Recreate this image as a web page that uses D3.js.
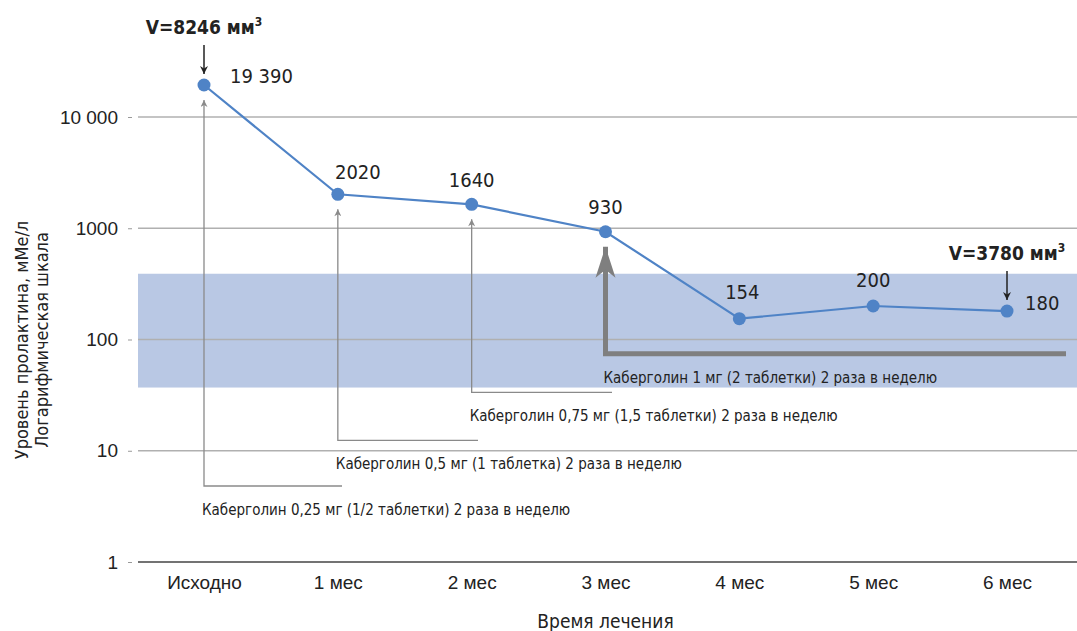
<!DOCTYPE html>
<html>
<head>
<meta charset="utf-8">
<script src="https://cdn.jsdelivr.net/npm/d3@7"></script>
<style>
    body { margin: 0; background: #fff; }
    svg { display: block; font-family: 'Liberation Sans Narrow', 'DejaVu Sans Condensed', 'Arial Narrow', sans-serif; }
</style>
</head>
<body>
<svg width="1077" height="631"></svg>
<script>
const months = ['Исходно', '1 мес', '2 мес', '3 мес', '4 мес', '5 мес', '6 мес'];
const prolactin = [19390, 2020, 1640, 930, 154, 200, 180];
const valueLabels = ['19 390', '2020', '1640', '930', '154', '200', '180'];
const yTicks = [1, 10, 100, 1000, 10000];
const yTickLabels = ['1', '10', '100', '1000', '10 000'];
const normRange = [37, 390];
// dose changes: month index where it starts and the text under it
const doses = [
    {at: 0, text: 'Каберголин 0,25 мг (1/2 таблетки) 2 раза в неделю'},
    {at: 1, text: 'Каберголин 0,5 мг (1 таблетка) 2 раза в неделю'},
    {at: 2, text: 'Каберголин 0,75 мг (1,5 таблетки) 2 раза в неделю'},
    {at: 3, text: 'Каберголин 1 мг (2 таблетки) 2 раза в неделю'}
];
const volumes = [
    {at: 0, text: 'V=8246 мм'},
    {at: 6, text: 'V=3780 мм'}
];

const svg = d3.select('svg');
const left = 138, right = 1077;

const x = d3.scalePoint()
    .domain(months)
    .range([204, 1007]);

const y = d3.scaleLog()
    .domain([1, 10000])
    .range([562, 117]);

const defs = svg.append('defs');
defs.append('marker')
    .attr('id', 'thinHead')
    .attr('viewBox', '0 0 10 10')
    .attr('refX', 10).attr('refY', 5)
    .attr('markerWidth', 11).attr('markerHeight', 7)
    .attr('markerUnits', 'userSpaceOnUse')
    .attr('orient', 'auto')
    .append('path')
    .attr('d', 'M0,0 L10,5 L0,10 L3,5 Z')
    .attr('fill', '#8a8a8a');
defs.append('marker')
    .attr('id', 'blackHead')
    .attr('viewBox', '0 0 10 10')
    .attr('refX', 10).attr('refY', 5)
    .attr('markerWidth', 13).attr('markerHeight', 8)
    .attr('markerUnits', 'userSpaceOnUse')
    .attr('orient', 'auto')
    .append('path')
    .attr('d', 'M0,0 L10,5 L0,10 L3,5 Z')
    .attr('fill', '#222');

// norm band
svg.append('rect')
    .attr('x', left)
    .attr('width', right - left)
    .attr('y', y(normRange[1]))
    .attr('height', y(normRange[0]) - y(normRange[1]))
    .attr('fill', '#b9c8e4');

// grid
svg.append('g')
    .selectAll('line')
    .data(yTicks.slice(1))
    .enter().append('line')
    .attr('x1', left).attr('x2', right)
    .attr('y1', d => y(d)).attr('y2', d => y(d))
    .attr('stroke', '#b0b0b0')
    .attr('stroke-width', 1.5);

// y axis
const yAxis = svg.append('g')
    .attr('transform', `translate(${left - 6},0)`)
    .call(d3.axisLeft(y).tickValues(yTicks).tickSize(4).tickPadding(10)
        .tickFormat((d, i) => yTickLabels[i]));
yAxis.select('.domain').remove();
yAxis.selectAll('.tick line').attr('stroke', '#999');
yAxis.selectAll('.tick text')
    .attr('font-size', 19)
    .attr('fill', '#222');

// x axis
svg.append('line')
    .attr('x1', left).attr('x2', right)
    .attr('y1', y(1)).attr('y2', y(1))
    .attr('stroke', '#444')
    .attr('stroke-width', 1.5);
const xAxis = svg.append('g')
    .attr('transform', `translate(0,${y(1)})`)
    .call(d3.axisBottom(x).tickSize(0).tickPadding(14));
xAxis.select('.domain').remove();
xAxis.selectAll('.tick text')
    .attr('font-size', 19)
    .attr('fill', '#222');

svg.append('text')
    .attr('x', x('3 мес'))
    .attr('y', 628)
    .attr('text-anchor', 'middle')
    .attr('font-size', 19)
    .attr('fill', '#222')
    .text('Время лечения');

const yTitle = svg.append('text')
    .attr('transform', 'translate(28,340) rotate(-90)')
    .attr('text-anchor', 'middle')
    .attr('font-size', 18)
    .attr('fill', '#222');
yTitle.append('tspan').attr('x', 0).attr('dy', 0).text('Уровень пролактина, мМе/л');
yTitle.append('tspan').attr('x', 0).attr('dy', 20).text('Логарифмическая шкала');

// dose arrows
const doseDrop = [401, 246, 188, 122];
const doseEnd = [342, 478, 612, 1066];
doses.forEach(function (d, i) {
    const m = months[d.at];
    const px = x(m);
    const top = y(prolactin[d.at]);
    const bottom = top + doseDrop[i];
    const last = i === doses.length - 1;
    svg.append('path')
        .attr('d', `M${doseEnd[i]},${bottom} H${px} V${top + 15}`)
        .attr('fill', 'none')
        .attr('stroke', last ? '#7f7f7f' : '#8a8a8a')
        .attr('stroke-width', last ? 5 : 1.3)
        .attr('marker-end', last ? null : 'url(#thinHead)');
    if (last) {
        svg.append('path')
            .attr('d', `M${px},${top + 15} L${px + 10},${top + 46} L${px},${top + 38} L${px - 10},${top + 46} Z`)
            .attr('fill', '#7f7f7f');
    }
    svg.append('text')
        .attr('x', px - 2)
        .attr('y', bottom + 29)
        .attr('font-size', 15)
        .attr('fill', '#222')
        .text(d.text);
});

// line + points
const line = d3.line()
    .x((d, i) => x(months[i]))
    .y(d => y(d));

svg.append('path')
    .datum(prolactin)
    .attr('d', line)
    .attr('fill', 'none')
    .attr('stroke', '#4f83c6')
    .attr('stroke-width', 2.2);

svg.append('g')
    .selectAll('circle')
    .data(prolactin)
    .enter().append('circle')
    .attr('cx', (d, i) => x(months[i]))
    .attr('cy', d => y(d))
    .attr('r', 6.5)
    .attr('fill', '#4f83c6');

// value labels: offset from each point
const labelOffset = [[26, -9, 'start'], [20, -22, 'middle'], [0, -24, 'middle'], [0, -25, 'middle'],
    [3, -27, 'middle'], [0, -26, 'middle'], [18, -8, 'start']];
svg.append('g')
    .selectAll('text')
    .data(prolactin)
    .enter().append('text')
    .attr('x', (d, i) => x(months[i]) + labelOffset[i][0])
    .attr('y', (d, i) => y(d) + labelOffset[i][1])
    .attr('dy', '0.35em')
    .attr('text-anchor', (d, i) => labelOffset[i][2])
    .attr('font-size', 20)
    .attr('fill', '#222')
    .text((d, i) => valueLabels[i]);

// volume annotations
volumes.forEach(function (v) {
    const px = x(months[v.at]);
    const py = y(prolactin[v.at]);
    svg.append('line')
        .attr('x1', px).attr('x2', px)
        .attr('y1', py - 40).attr('y2', py - 11)
        .attr('stroke', '#222')
        .attr('stroke-width', 1.5)
        .attr('marker-end', 'url(#blackHead)');
    const t = svg.append('text')
        .attr('x', px)
        .attr('y', py - 51)
        .attr('text-anchor', 'middle')
        .attr('font-size', 19)
        .attr('font-weight', 'bold')
        .attr('fill', '#222')
        .text(v.text);
    t.append('tspan')
        .attr('dy', -8)
        .attr('font-size', 12)
        .text('3');
});
</script>
</body>
</html>
